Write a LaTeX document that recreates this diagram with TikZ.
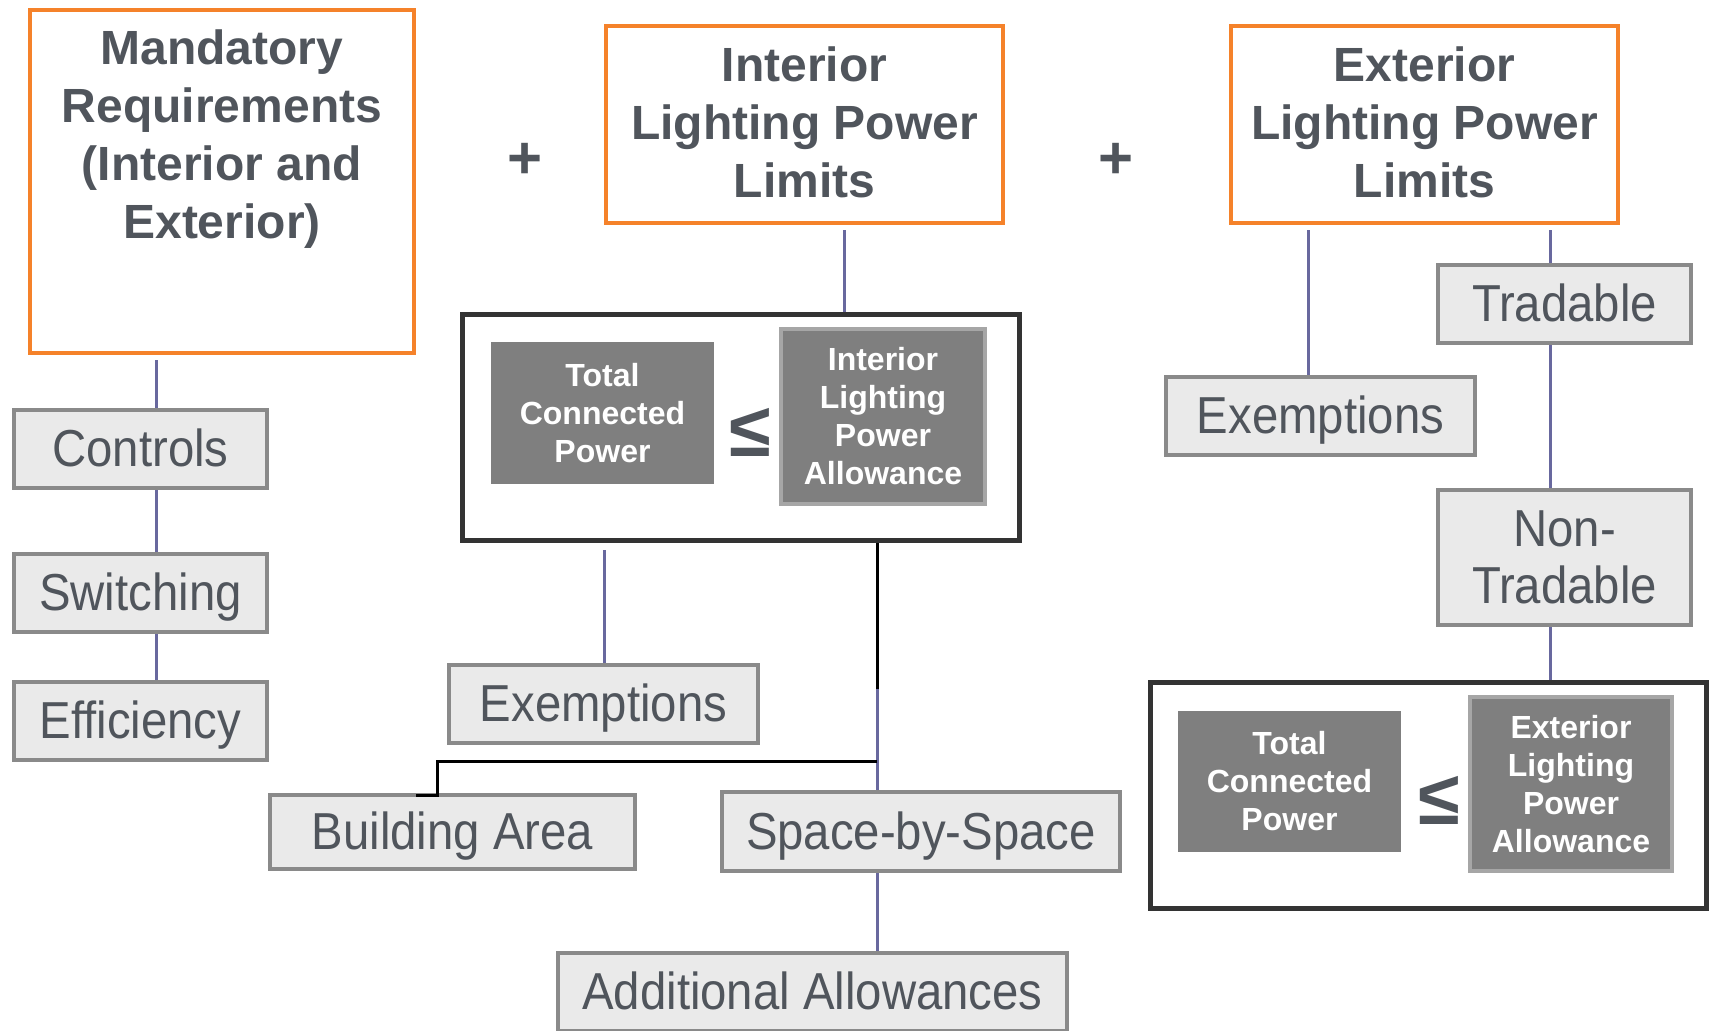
\documentclass[tikz,border=0pt]{standalone}
\usepackage{fontspec}
\setmainfont{Liberation Sans}
\newfontfamily\narrowfont[FakeStretch=0.91]{Liberation Sans}
\definecolor{lporange}{RGB}{245,130,42}
\definecolor{txtgray}{RGB}{80,85,92}
\definecolor{itemfill}{RGB}{234,234,234}
\definecolor{itemline}{RGB}{138,138,138}
\definecolor{powerfill}{RGB}{127,127,127}
\definecolor{allowline}{RGB}{166,166,166}
\definecolor{framecol}{RGB}{51,51,51}
\definecolor{linkcol}{RGB}{104,104,158}
\begin{document}
\begin{tikzpicture}[
              x=1pt, y=-1pt,
              head/.style={draw=lporange,line width=4pt,inner sep=0pt},
              headtext/.style={text=txtgray,font=\bfseries\fontsize{48}{58}\selectfont,align=center},
              item/.style={draw=itemline,fill=itemfill,line width=4pt,inner sep=0pt,
                minimum width=253pt,minimum height=78pt,text height=42pt,text depth=7pt,
                text=txtgray,font=\narrowfont\fontsize{52}{57}\selectfont,align=center},
              frame/.style={draw=framecol,line width=5pt,inner sep=0pt,minimum width=557pt,minimum height=226pt},
              power/.style={fill=powerfill,inner sep=0pt,text=white,font=\bfseries\fontsize{32}{38}\selectfont,align=center},
              allowance/.style={power,draw=allowline,line width=4pt},
              lesign/.style={text=txtgray,font=\bfseries\fontsize{76}{76}\selectfont,align=center,inner sep=0pt},
              plussign/.style={text=txtgray,font=\bfseries\fontsize{60}{60}\selectfont,align=center,inner sep=0pt},
              link/.style={linkcol,line width=3pt},
              wire/.style={black,line width=3pt}
            ]
            \useasboundingbox (0,0) rectangle (1714,1031);

            % Headings
            \node[head,minimum width=384pt,minimum height=343pt] (mand) at (222,181.5) {};
            \node[headtext] (mandtext) at (222,139.5) {Mandatory\\Requirements\\(Interior and\\Exterior)};
            \node[plussign] (plus1) at (525,161) {+};
            \node[head,minimum width=397pt,minimum height=197pt] (intlpl) at (804.5,124.5) {};
            \node[headtext] (intlpltext) at (804.5,122) {Interior\\Lighting Power\\Limits};
            \node[plussign] (plus2) at (1116,161) {+};
            \node[head,minimum width=387pt,minimum height=197pt] (extlpl) at (1424.5,124.5) {};
            \node[headtext] (extlpltext) at (1424.5,122) {Exterior\\Lighting Power\\Limits};

            % Mandatory branch
            \node[item] (ctrl) at (140.5,449) {Controls};
            \node[item] (swit) at (140.5,593) {Switching};
            \node[item] (effi) at (140.5,720.5) {Efficiency};

            % Interior branch
            \node[frame] (intbox) at (741,427.5) {};
            \node[power,minimum width=223pt,minimum height=142pt] (inttcp) at (602.5,413) {Total\\Connected\\Power};
            \node[lesign] (intle) at (750,432) {≤};
            \node[allowance,minimum width=204pt,minimum height=175pt] (intlpa) at (883,416.5) {Interior\\Lighting\\Power\\Allowance};
            \node[item,minimum width=309pt] (intex) at (603.5,704) {Exemptions};
            \node[item,minimum width=365pt,minimum height=74pt] (bldg) at (452.5,832) {Building Area};
            \node[item,minimum width=398pt,minimum height=79pt] (space) at (921,831.5) {Space-by-Space};
            \node[item,minimum width=509pt] (addl) at (812.5,992) {Additional Allowances};

            % Exterior branch
            \node[item,minimum width=309pt] (extex) at (1320.5,416) {Exemptions};
            \node[item] (trad) at (1564.5,304) {Tradable};
            \node[item,minimum height=135pt,text height=99pt] (nontr) at (1564.5,557.5) {Non-\\Tradable};
            \node[frame,minimum width=556pt] (extbox) at (1428.5,795.5) {};
            \node[power,minimum width=223pt,minimum height=141pt] (exttcp) at (1289.5,781.5) {Total\\Connected\\Power};
            \node[lesign] (extle) at (1439,800) {≤};
            \node[allowance,minimum width=202pt,minimum height=174pt] (extlpa) at (1571,784) {Exterior\\Lighting\\Power\\Allowance};

            % Link columns
            \coordinate (mx) at (156,0);
            \coordinate (ix) at (844,0);
            \coordinate (ex) at (604,0);
            \coordinate (split) at (877,689);
            \coordinate (elbow) at (877,761);
            \coordinate (bend) at (437,795);
            \coordinate (xx) at (1308,0);
            \coordinate (tx) at (1550,0);

            % Links
            \draw[link,shorten <=5pt] (mand.south -| mx) -- (ctrl.north -| mx);
            \draw[link] (ctrl.south -| mx) -- (swit.north -| mx);
            \draw[link] (swit.south -| mx) -- (effi.north -| mx);

            \draw[link,shorten <=5pt] (intlpl.south -| ix) -- (intbox.north -| ix);
            \draw[link,shorten <=7pt] (intbox.south -| ex) -- (intex.north -| ex);
            \draw[wire] (intbox.south -| split) -- (split);
            \draw[link] (split) -- (space.north -| split);
            \draw[wire] (elbow) -| (bend) -- ++(-21,0);
            \draw[link] (space.south -| split) -- (addl.north -| split);

            \draw[link,shorten <=5pt] (extlpl.south -| xx) -- (extex.north -| xx);
            \draw[link,shorten <=5pt] (extlpl.south -| tx) -- (trad.north -| tx);
            \draw[link] (trad.south -| tx) -- (nontr.north -| tx);
            \draw[link] (nontr.south -| tx) -- (extbox.north -| tx);

            \end{tikzpicture}
\end{document}
